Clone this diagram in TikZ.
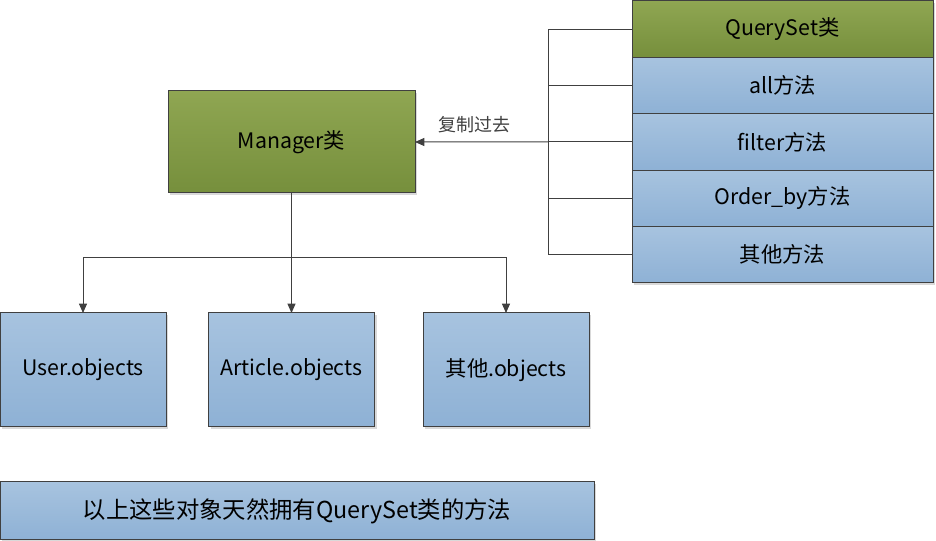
\documentclass[tikz,border=0pt]{standalone}
\usepackage{fontspec}
\setmainfont{Noto Sans CJK SC}
\usepackage{xcolor}
\usetikzlibrary{arrows.meta,positioning,shadows}
\definecolor{olivetop}{RGB}{143,166,82}
\definecolor{olivebot}{RGB}{118,143,60}
\definecolor{bluetop}{RGB}{167,195,223}
\definecolor{bluebot}{RGB}{142,177,213}
\definecolor{edge}{RGB}{64,64,64}

\begin{document}
\begin{tikzpicture}[x=0.75pt,y=-0.75pt,font=\fontsize{16pt}{19pt}\selectfont]
\tikzset{box/.style={draw=edge,line width=0.75pt,outer sep=0pt,inner sep=0pt,top color=bluetop,bottom color=bluebot,
    drop shadow={shadow xshift=1.5pt,shadow yshift=-1.5pt,fill=black!25,opacity=0.6}},
  cls/.style={box,top color=olivetop,bottom color=olivebot},
  row/.style={minimum width=225.75pt,minimum height=42.3pt},
  obj/.style={box,minimum width=124.5pt,minimum height=85.5pt},
  conn/.style={draw=edge,line width=0.75pt},
  arr/.style={conn,-{Triangle[length=7pt,width=6pt]}}}
\useasboundingbox (0,0) rectangle (936,541);
% QuerySet column
\node[cls,row] (qs) at (782.5,29.2) {QuerySet类};
\node[box,row,below=0pt of qs] (all) {all方法};
\node[box,row,below=0pt of all] (filter) {filter方法};
\node[box,row,below=0pt of filter] (order) {Order\_by方法};
\node[box,row,below=0pt of order] (other) {其他方法};
\node[cls,minimum width=185.25pt,minimum height=76.5pt] (mgr) at (291.5,142) {Manager类};
\node[obj] (user) at (83,370) {User.objects};
\node[obj] (article) at (291.5,370) {Article.objects};
\node[obj] (others) at (506,370) {其他.objects};
\node[box,minimum width=445.5pt,minimum height=43.5pt,font=\fontsize{17.5pt}{21pt}\selectfont] (note) at (297,511) {以上这些对象天然拥有QuerySet类的方法};
% bracket
\coordinate (br) at (548,142);
\foreach \r in {qs,all,filter,order,other}
  \draw[conn] (\r.west) -- (\r.west -| br);
\draw[conn] (qs.west -| br) -- (other.west -| br);
\draw[arr] (filter.west -| br) -- (mgr.east) node[pos=0.55,above=3pt,font=\fontsize{13.5pt}{16pt}\selectfont,text=black!75] {复制过去};
% tree
\coordinate (j) at (291.5,258);
\draw[arr] (mgr.south) -- (j) -| (user.north);
\draw[arr] (j) -- (article.north);
\draw[arr] (j) -| (others.north);
\end{tikzpicture}
\end{document}
